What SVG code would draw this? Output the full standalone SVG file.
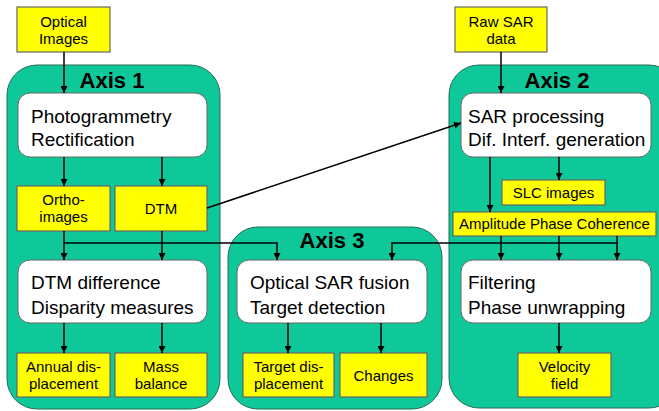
<svg xmlns="http://www.w3.org/2000/svg" width="659" height="411" viewBox="0 0 659 411">
<defs>
<marker id="ah" viewBox="0 0 10 10" refX="10" refY="5" markerWidth="7" markerHeight="7" markerUnits="userSpaceOnUse" orient="auto"><path d="M0,0 L10,5 L0,10 z" fill="#000"/></marker>
<style>
.axis{fill:#0FC899;stroke:#2b6b55;stroke-width:1}
.proc{fill:#fff;stroke:#666;stroke-width:1}
.data{fill:#ffff00;stroke:#666;stroke-width:1.2}
.t{font-family:"Liberation Sans",Arial,sans-serif;fill:#000}
.big{font-size:19px}
.sm{font-size:15px;text-anchor:middle}
.ttl{font-size:22px;font-weight:bold;text-anchor:middle}
.c{fill:none;stroke:#000;stroke-width:1.5}
.ca{fill:none;stroke:#000;stroke-width:1.5;marker-end:url(#ah)}
</style>
</defs>
<rect width="659" height="411" fill="#fff"/>
<g id="axis1"><rect class="axis" x="7" y="65" width="213" height="344" rx="30"/><text class="t ttl" x="112" y="88">Axis 1</text></g>
<g id="axis2"><rect class="axis" x="449" y="65" width="230" height="343" rx="30"/><text class="t ttl" x="557" y="88">Axis 2</text></g>
<g id="axis3"><rect class="axis" x="228" y="227" width="214" height="182" rx="30"/><text class="t ttl" x="332" y="248">Axis 3</text></g>

<g id="optical"><rect class="data" x="17" y="7" width="93" height="45"/><text class="t sm" x="63.5" y="27">Optical</text><text class="t sm" x="63.5" y="44">Images</text></g>
<g id="rawsar"><rect class="data" x="455" y="7" width="92" height="45"/><text class="t sm" x="501" y="27">Raw SAR</text><text class="t sm" x="501" y="44">data</text></g>

<g id="photo"><rect class="proc" x="18" y="93" width="189" height="64" rx="12"/><text class="t big" x="31" y="123">Photogrammetry</text><text class="t big" x="31" y="146">Rectification</text></g>
<g id="sarproc"><rect class="proc" x="461" y="93" width="190" height="64" rx="12"/><text class="t big" x="468" y="123">SAR processing</text><text class="t big" x="468" y="146">Dif. Interf. generation</text></g>

<g id="ortho"><rect class="data" x="17" y="186" width="93" height="45"/><text class="t sm" x="63.5" y="205">Ortho-</text><text class="t sm" x="63.5" y="222">images</text></g>
<g id="dtm"><rect class="data" x="115" y="186" width="92" height="45"/><text class="t sm" x="161" y="214">DTM</text></g>
<g id="slc"><rect class="data" x="502" y="180" width="103" height="25"/><text class="t sm" x="553.5" y="198">SLC images</text></g>
<g id="apc"><rect class="data" x="453" y="212" width="203" height="24"/><text class="t sm" x="554.5" y="229">Amplitude Phase Coherence</text></g>

<g id="dtmdiff"><rect class="proc" x="18" y="260" width="189" height="63" rx="12"/><text class="t big" x="31" y="289">DTM difference</text><text class="t big" x="31" y="314">Disparity measures</text></g>
<g id="fusion"><rect class="proc" x="237" y="260" width="190" height="63" rx="12"/><text class="t big" x="250" y="289">Optical SAR fusion</text><text class="t big" x="250" y="314">Target detection</text></g>
<g id="filter"><rect class="proc" x="461" y="260" width="190" height="63" rx="12"/><text class="t big" x="468" y="289">Filtering</text><text class="t big" x="468" y="314">Phase unwrapping</text></g>

<g id="annual"><rect class="data" x="17" y="353" width="93" height="44"/><text class="t sm" x="63.5" y="372">Annual dis-</text><text class="t sm" x="63.5" y="389">placement</text></g>
<g id="mass"><rect class="data" x="115" y="353" width="92" height="44"/><text class="t sm" x="161" y="372">Mass</text><text class="t sm" x="161" y="389">balance</text></g>
<g id="target"><rect class="data" x="243" y="353" width="91" height="44"/><text class="t sm" x="288.5" y="372">Target dis-</text><text class="t sm" x="288.5" y="389">placement</text></g>
<g id="changes"><rect class="data" x="340" y="353" width="87" height="44"/><text class="t sm" x="383.5" y="381">Changes</text></g>
<g id="velocity"><rect class="data" x="518" y="353" width="93" height="44"/><text class="t sm" x="564.5" y="372">Velocity</text><text class="t sm" x="564.5" y="389">field</text></g>

<g id="connectors">
<path class="ca" d="M64,52 V93"/>
<path class="ca" d="M501,52 V93"/>
<path class="ca" d="M64,157 V186"/>
<path class="ca" d="M162,157 V186"/>
<path class="ca" d="M207,208 L461,123"/>
<path class="ca" d="M559,157 V180"/>
<path class="ca" d="M490,157 V212"/>
<path class="ca" d="M64,231 V260"/>
<path class="ca" d="M162,231 V260"/>
<path class="ca" d="M64,243 H277 V260"/>
<path class="ca" d="M617,236 V260"/>
<path class="ca" d="M559,236 V260"/>
<path class="ca" d="M501,236 V260"/>
<path class="ca" d="M617,243 H392 V260"/>
<path class="ca" d="M64,323 V353"/>
<path class="ca" d="M162,323 V353"/>
<path class="ca" d="M288,323 V353"/>
<path class="ca" d="M381,323 V353"/>
<path class="ca" d="M559,323 V353"/>
</g>
</svg>
